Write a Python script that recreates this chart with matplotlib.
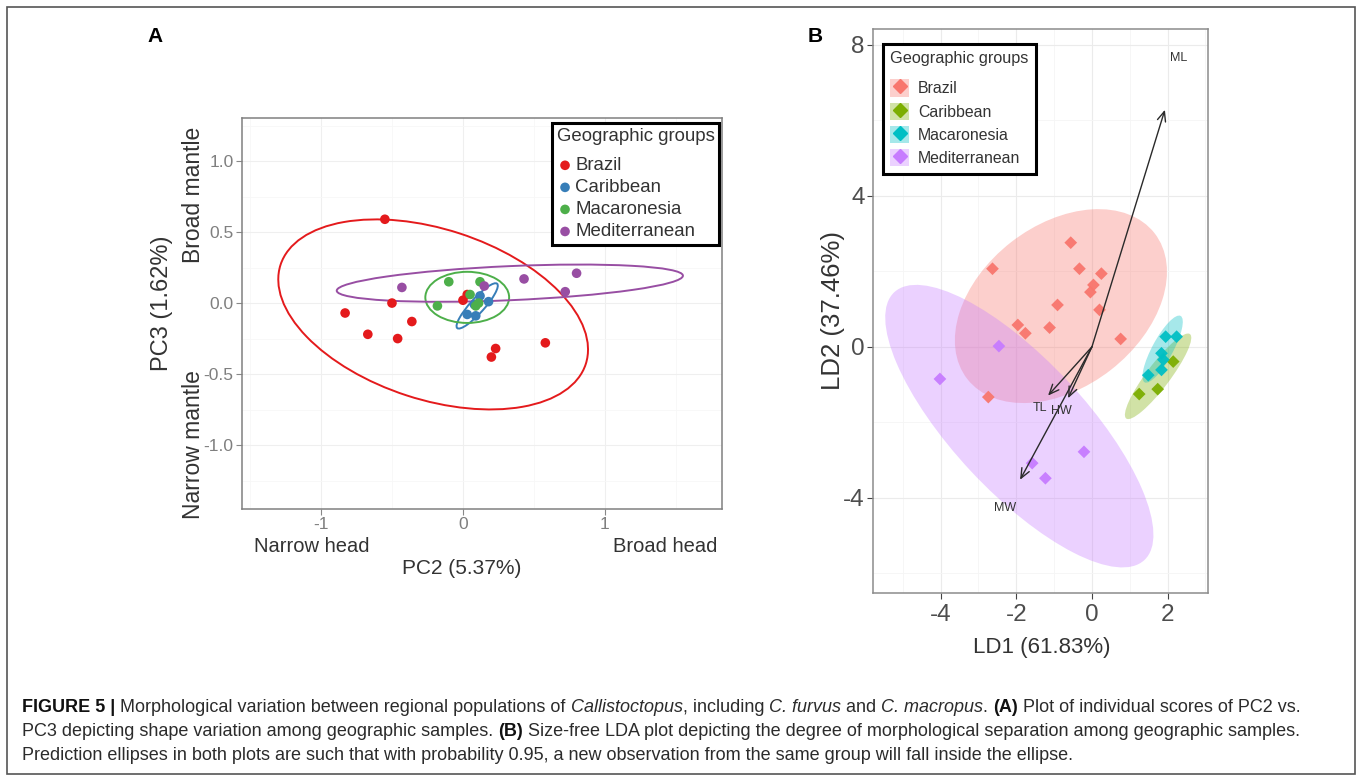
import matplotlib
matplotlib.use("Agg")
import numpy as np
import matplotlib.pyplot as plt
from matplotlib.patches import Ellipse, Patch, Rectangle
from matplotlib.lines import Line2D
from matplotlib import font_manager

plt.rcParams['font.family'] = ['Liberation Sans', 'DejaVu Sans']

W, H = 1358, 777

groups = ['Brazil', 'Caribbean', 'Macaronesia', 'Mediterranean']

# ---- panel A: PCA scores (PC2 vs PC3) ----
a_colors = ['#E41A1C', '#377EB8', '#4DAF4A', '#984EA3']
a_pc2 = {
    'Brazil': [-0.55, -0.50, -0.83, -0.67, -0.46, -0.36, 0.23, 0.20, 0.58, 0.00, 0.03],
    'Caribbean': [0.03, 0.09, 0.12, 0.18, 0.08],
    'Macaronesia': [-0.10, 0.12, -0.18, 0.05, 0.09, 0.11],
    'Mediterranean': [-0.43, 0.15, 0.43, 0.80, 0.72],
}
a_pc3 = {
    'Brazil': [0.59, 0.00, -0.07, -0.22, -0.25, -0.13, -0.32, -0.38, -0.28, 0.02, 0.06],
    'Caribbean': [-0.08, -0.09, 0.05, 0.01, -0.01],
    'Macaronesia': [0.15, 0.15, -0.02, 0.06, -0.02, 0.00],
    'Mediterranean': [0.11, 0.12, 0.17, 0.21, 0.08],
}
# 95% prediction ellipses: centre x, centre y, width, height, angle
a_ell_cx = [-0.21, 0.10, 0.03, 0.33]
a_ell_cy = [-0.08, -0.02, 0.04, 0.14]
a_ell_w = [2.26, 0.42, 0.59, 2.44]
a_ell_h = [1.20, 0.10, 0.36, 0.24]
a_ell_ang = [-18, 48, 0, 2.5]

# ---- panel B: LDA scores ----
b_colors = ['#F8766D', '#7CAE00', '#00BFC4', '#C77CFF']
b_ld1 = {
    'Brazil': [-2.63, -0.56, -0.33, 0.25, 0.04, -0.04, -0.91, 0.20, -1.12, -1.96, -1.76, 0.76, -2.74],
    'Caribbean': [2.15, 1.25, 1.74],
    'Macaronesia': [1.95, 2.24, 1.84, 1.89, 1.84, 1.49],
    'Mediterranean': [-2.46, -4.02, -0.21, -1.58, -1.23],
}
b_ld2 = {
    'Brazil': [2.07, 2.76, 2.07, 1.94, 1.64, 1.45, 1.11, 0.98, 0.51, 0.58, 0.36, 0.21, -1.33],
    'Caribbean': [-0.39, -1.25, -1.12],
    'Macaronesia': [0.27, 0.27, -0.17, -0.34, -0.61, -0.75],
    'Mediterranean': [0.02, -0.85, -2.78, -3.08, -3.48],
}
b_ell_cx = [-0.82, 1.75, 1.87, -1.92]
b_ell_cy = [1.08, -0.78, -0.06, -2.10]
b_ell_w = [6.28, 2.80, 2.00, 9.70]
b_ell_h = [4.29, 0.62, 0.55, 3.50]
b_ell_ang = [38, 53, 61.6, -47]

# variable loadings (arrows)
vars_names = ['ML', 'TL', 'HW', 'MW']
vars_x = [1.93, -1.16, -0.63, -1.90]
vars_y = [6.28, -1.29, -1.36, -3.52]
lab_x = [2.28, -1.38, -0.80, -2.30]
lab_y = [7.66, -1.62, -1.71, -4.27]


def fx(px):
    return px / W


def fy(py):
    return 1 - py / H


fig = plt.figure(figsize=(W / 100, H / 100), dpi=100)
fig.patch.set_facecolor('white')

# outer frame
fig.add_artist(Rectangle((fx(7), fy(774)), fx(1355) - fx(7), fy(7) - fy(774),
                         transform=fig.transFigure, fill=False, edgecolor='#555555', lw=1.2))

# ================= Panel A =================
axA = fig.add_axes([fx(242), fy(509), 480 / W, 391 / H])
axA.set_xlim(-1.556, 1.824)
axA.set_ylim(-1.45, 1.303)
axA.set_xticks([-1, 0, 1])
axA.set_xticklabels(['-1', '0', '1'])
axA.set_yticks([-1.0, -0.5, 0.0, 0.5, 1.0])
axA.set_yticklabels(['-1.0', '-0.5', '0.0', '0.5', '1.0'])
axA.set_xticks([-1.5, -0.5, 0.5, 1.5], minor=True)
axA.set_yticks([-1.25, -0.75, -0.25, 0.25, 0.75, 1.25], minor=True)
axA.grid(which='major', color='#EFEFEF', lw=0.8)
axA.grid(which='minor', color='#F7F7F7', lw=0.6)
axA.set_axisbelow(True)
axA.tick_params(which='major', length=4, width=0.8, color='#888888', labelcolor='#7F7F7F',
                labelsize=12.5, pad=2)
axA.tick_params(which='minor', length=0)
for s in axA.spines.values():
    s.set_color('#808080')
    s.set_linewidth(1.1)

for i, g in enumerate(groups):
    axA.add_patch(Ellipse((a_ell_cx[i], a_ell_cy[i]), a_ell_w[i], a_ell_h[i], angle=a_ell_ang[i],
                          fill=False, edgecolor=a_colors[i], lw=1.4, zorder=2))
for i, g in enumerate(groups):
    axA.scatter(a_pc2[g], a_pc3[g], s=48, color=a_colors[i], edgecolors='none', zorder=3, label=g)

legA = axA.legend(loc='upper left', bbox_to_anchor=(fx(552), fy(123)), bbox_transform=fig.transFigure,
                  title='Geographic groups', fontsize=13.4, title_fontsize=13.4, frameon=True,
                  fancybox=False, framealpha=1, edgecolor='black', handletextpad=0.1,
                  handlelength=0.9, borderpad=0.25, labelspacing=0.27, borderaxespad=0,
                  alignment='left', markerscale=1.0)
legA._legend_box.sep = 9
legA.get_frame().set_linewidth(2.2)
legA.get_title().set_color('#333333')
for t in legA.get_texts():
    t.set_color('#333333')

fig.text(fx(462), fy(568), 'PC2 (5.37%)', fontsize=15, color='#333333', ha='center', va='center')
fig.text(fx(312), fy(547), 'Narrow head', fontsize=14.5, color='#333333', ha='center', va='center')
fig.text(fx(665), fy(547), 'Broad head', fontsize=14.5, color='#333333', ha='center', va='center')
fig.text(fx(162), fy(303), 'PC3 (1.62%)', fontsize=17, color='#333333', ha='center', va='center', rotation=90)
fig.text(fx(193), fy(195), 'Broad mantle', fontsize=16.5, color='#333333', ha='center', va='center', rotation=90)
fig.text(fx(193), fy(445), 'Narrow mantle', fontsize=16.5, color='#333333', ha='center', va='center', rotation=90)
fig.text(fx(155), fy(37), 'A', fontsize=15, fontweight='bold', ha='center', va='center')

# ================= Panel B =================
axB = fig.add_axes([fx(873), fy(593), 335 / W, 564 / H])
axB.set_xlim(-5.79, 3.07)
axB.set_ylim(-6.52, 8.42)
axB.set_xticks([-4, -2, 0, 2])
axB.set_xticklabels(['-4', '-2', '0', '2'])
axB.set_yticks([-4, 0, 4, 8])
axB.set_yticklabels(['-4', '0', '4', '8'])
axB.set_xticks([-5, -3, -1, 1, 3], minor=True)
axB.set_yticks([-6, -2, 2, 6], minor=True)
axB.grid(which='major', color='#EBEBEB', lw=0.8)
axB.grid(which='minor', color='#F5F5F5', lw=0.6)
axB.set_axisbelow(True)
axB.tick_params(which='major', length=4, width=0.8, color='#444444', labelcolor='#4D4D4D',
                labelsize=17.5, pad=2)
axB.tick_params(axis='x', which='major', pad=4)
axB.tick_params(which='minor', length=0)
for s in axB.spines.values():
    s.set_color('#8C8C8C')
    s.set_linewidth(1.1)

for i, g in enumerate(groups):
    axB.add_patch(Ellipse((b_ell_cx[i], b_ell_cy[i]), b_ell_w[i], b_ell_h[i], angle=b_ell_ang[i],
                          facecolor=b_colors[i], edgecolor='none', alpha=0.35, zorder=2))
for i, g in enumerate(groups):
    axB.scatter(b_ld1[g], b_ld2[g], s=42, marker='D', color=b_colors[i], edgecolors='none',
                alpha=0.95, zorder=3)

for i, v in enumerate(vars_names):
    axB.annotate('', xy=(vars_x[i], vars_y[i]), xytext=(0, 0),
                 arrowprops=dict(arrowstyle='->,head_length=0.7,head_width=0.3', lw=1.0,
                                 color='#2A2A2A', shrinkA=0, shrinkB=0), zorder=4)
    axB.text(lab_x[i], lab_y[i], v, fontsize=9, color='#333333', ha='center', va='center', zorder=5)

handlesB = [(Patch(facecolor=b_colors[i], alpha=0.35, edgecolor='none'),
             Line2D([], [], marker='D', color=b_colors[i], linestyle='none', markersize=7))
            for i in range(len(groups))]
legB = axB.legend(handlesB, groups, loc='upper left', bbox_to_anchor=(fx(883), fy(44)),
                  bbox_transform=fig.transFigure, title='Geographic groups', fontsize=11.4,
                  title_fontsize=11.7, frameon=True, fancybox=False, framealpha=1,
                  edgecolor='black', handletextpad=0.55, handlelength=1.2, handleheight=1.3,
                  borderpad=0.45, labelspacing=0.38, borderaxespad=0, alignment='left')
legB._legend_box.sep = 9.5
legB.get_frame().set_linewidth(2.2)
legB.get_title().set_color('#333333')
for t in legB.get_texts():
    t.set_color('#333333')

fig.text(fx(1042), fy(648), 'LD1 (61.83%)', fontsize=16, color='#333333', ha='center', va='center')
fig.text(fx(833), fy(310), 'LD2 (37.46%)', fontsize=18.5, color='#333333', ha='center', va='center', rotation=90)
fig.text(fx(815), fy(37), 'B', fontsize=15, fontweight='bold', ha='center', va='center')

# ================= Caption =================
names = {f.name for f in font_manager.fontManager.ttflist}
cap_family = ['Liberation Sans Narrow'] if 'Liberation Sans Narrow' in names else ['Liberation Sans']

caption = [
    [('FIGURE 5 |', 'b'), (' Morphological variation between regional populations of ', ''),
     ('Callistoctopus', 'i'), (', including ', ''), ('C. furvus', 'i'), (' and ', ''),
     ('C. macropus', 'i'), ('. ', ''), ('(A)', 'b'), (' Plot of individual scores of PC2 vs.', '')],
    [('PC3 depicting shape variation among geographic samples. ', ''), ('(B)', 'b'),
     (' Size-free LDA plot depicting the degree of morphological separation among geographic samples.', '')],
    [('Prediction ellipses in both plots are such that with probability 0.95, a new observation '
      'from the same group will fall inside the ellipse.', '')],
]
cap_y = [707, 731, 755]
renderer = fig.canvas.get_renderer()


def run_width(txt, style, size):
    kw = dict(fontsize=size, family=cap_family,
              fontweight='bold' if 'b' in style else 'normal',
              fontstyle='italic' if 'i' in style else 'normal')
    t1 = fig.text(0, 0, 'x' + txt + 'x', **kw)
    t2 = fig.text(0, 0, 'xx', **kw)
    w = t1.get_window_extent(renderer).width - t2.get_window_extent(renderer).width
    t1.remove()
    t2.remove()
    return w, kw


# fit the first line to its width in the reference
w0 = sum(run_width(t, s, 10)[0] for t, s in caption[0])
cap_size = 10 * (1303 - 22) / w0

for line, yy in zip(caption, cap_y):
    x = 22
    for txt, style in line:
        w, kw = run_width(txt, style, cap_size)
        fig.text(fx(x), fy(yy), txt, va='center', ha='left',
                 color='#111111' if 'b' in style else '#2B2B2B', **kw)
        x += w

fig.savefig('out.png', dpi=100)
